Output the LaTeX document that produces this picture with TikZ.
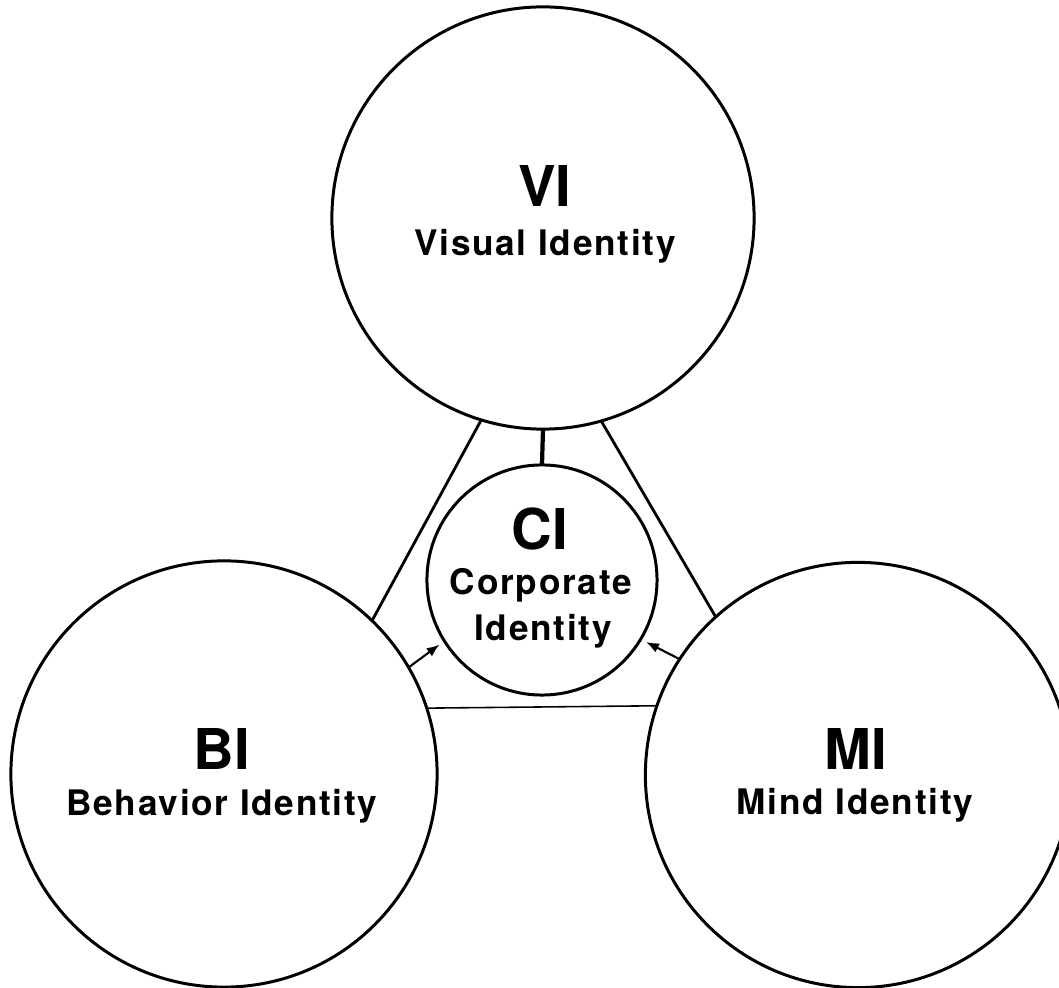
\documentclass[tikz,border=0pt]{standalone}
\usepackage{fontspec}
\setmainfont{TeX Gyre Heros}
\newfontfamily\spacedfont[LetterSpace=5]{TeX Gyre Heros}
\usetikzlibrary{arrows.meta}
\begin{document}
\begin{tikzpicture}[x=0.01cm,y=-0.01cm,
  ring/.style={circle,draw,line width=0.85pt,inner sep=0pt,outer sep=0pt},
  abbr/.style={anchor=base,inner sep=0pt,font=\fontsize{16}{18}\selectfont\bfseries},
  fullname/.style={anchor=base,inner sep=0pt,font=\spacedfont\bfseries\fontsize{10}{12}\selectfont},
  link/.style={line width=0.8pt},
  stem/.style={line width=1.2pt},
  baseline link/.style={line width=0.45pt},
  feed/.style={line width=0.6pt,-{Latex[length=1.3mm,width=1mm]},shorten >=0.06cm}
]
% page frame
\fill[white] (0,0) rectangle (1059,988);
\useasboundingbox (0,0) rectangle (1059,988);
\clip (0,0) rectangle (1059,988);

% the four identity circles
\node[ring,minimum size=4.22cm] (vi) at (543,218) {};
\node[ring,minimum size=4.26cm] (bi) at (224,774) {};
\node[ring,minimum size=4.25cm] (mi) at (858,775) {};
\node[ring,minimum size=2.30cm] (ci) at (542,580) {};

% connections between the outer circles
\draw[link] (vi.253.9) -- (bi.46.9);
\draw[link] (vi.286.7) -- (mi.132.4);
\draw[baseline link] (bi.18) -- (mi.161.6);

% links into the core
\draw[stem] (vi.south) -- (ci.north);
\draw[feed] (bi.30.4) -- (ci.212.9);
\draw[feed] (mi.147.4) -- (ci.329.4);

% labels
\node[abbr] (vi-abbr) at (545,207) {VI};
\node[fullname] (vi-name) at (545,256) {Visual Identity};
\node[abbr] (bi-abbr) at (222,770) {BI};
\node[fullname] (bi-name) at (222,816) {Behavior Identity};
\node[abbr] (mi-abbr) at (856,770) {MI};
\node[fullname] (mi-name) at (855,815) {Mind Identity};
\node[abbr] (ci-abbr) at (540,550) {CI};
\node[fullname] (ci-name1) at (541,595) {Corporate};
\node[fullname] (ci-name2) at (543,641) {Identity};
\end{tikzpicture}
\end{document}
